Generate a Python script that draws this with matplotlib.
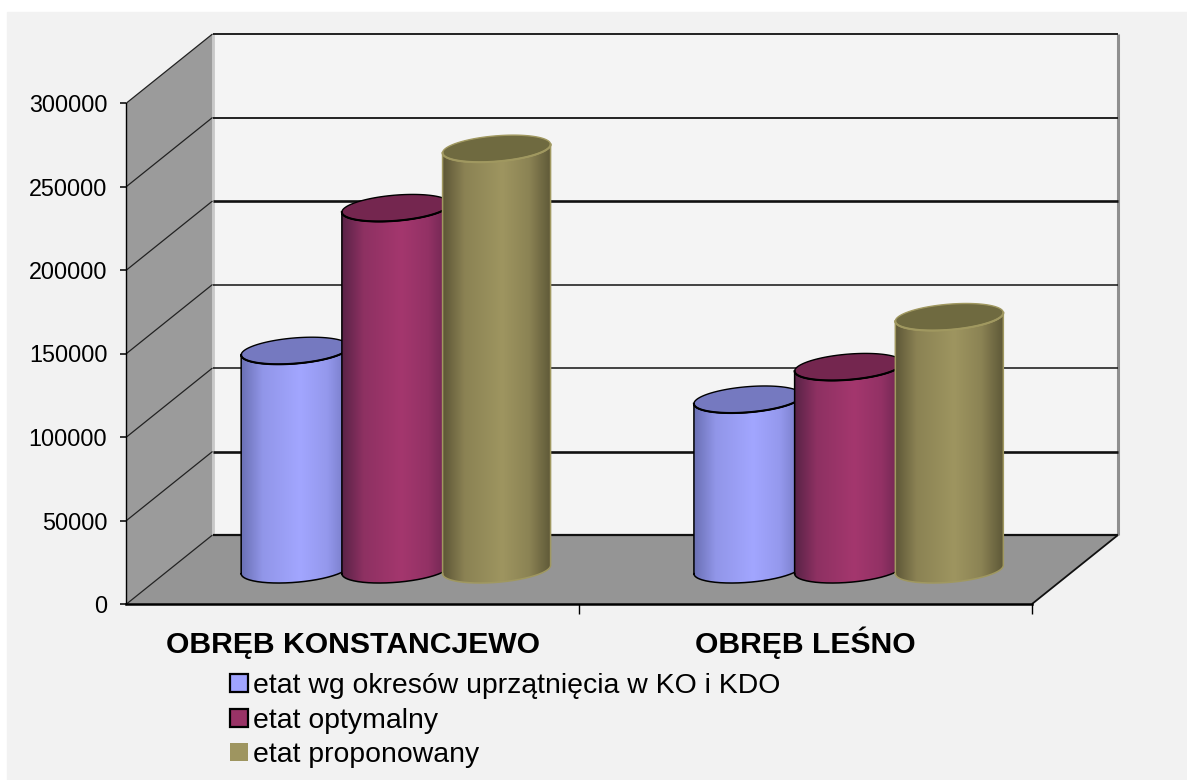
from __future__ import annotations

import matplotlib

matplotlib.use("Agg")

import matplotlib.pyplot as plt
import numpy as np
from matplotlib.colors import LinearSegmentedColormap
from matplotlib.patches import Patch, PathPatch, Polygon, Rectangle
from matplotlib.path import Path

plt.rcParams["font.family"] = ["Liberation Sans", "DejaVu Sans"]

categories = ["OBRĘB KONSTANCJEWO", "OBRĘB LEŚNO"]
series_names = [
    "etat wg okresów uprzątnięcia w KO i KDO",
    "etat optymalny",
    "etat proponowany",
]
etat_okresy = [131000, 101800]
etat_optymalny = [216500, 121300]
etat_proponowany = [252000, 151200]
y_ticks = [0, 50000, 100000, 150000, 200000, 250000, 300000]

# light/dark shades per series: left edge, highlight, right edge, top cap, outline
shades = [
    ("#6a70b4", "#a2a6ff", "#7478c2", "#7579c0", "#000000"),
    ("#5a2347", "#a4376e", "#6a2550", "#74264f", "#000000"),
    ("#5e5737", "#9e9560", "#5f5938", "#6f6a40", "#a09860"),
]
legend_colors = ["#a0a4ff", "#993366", "#9e9560"]

W, H = 1187, 780
LEFT, RIGHT, TOP, BOTTOM = 126.5, 1032.0, 103.0, 604.0
DEPTH_X, DEPTH_Y = 86.0, 69.0

fig = plt.figure(figsize=(W / 100, H / 100), dpi=100, facecolor="white")
fig.add_artist(Rectangle((7 / W, 0), 1, 1 - 12 / H, transform=fig.transFigure, color="#f2f2f2", zorder=-5))
ax = fig.add_axes([LEFT / W, 1 - BOTTOM / H, (RIGHT - LEFT) / W, (BOTTOM - TOP) / H])
ax.patch.set_alpha(0)

x_per_px = 2 / (RIGHT - LEFT)
y_per_px = 300000 / (BOTTOM - TOP)


def project(x, v, d):
    # oblique view: depth d (0 front, 1 back) shifts points up and to the right
    x = np.asarray(x, dtype=float) + np.asarray(d, dtype=float) * DEPTH_X * x_per_px
    v = np.asarray(v, dtype=float) + np.asarray(d, dtype=float) * DEPTH_Y * y_per_px
    return x, v


def quad(x0, v0, d0, x1, v1, d1, x2, v2, d2, x3, v3, d3, **kw):
    pts = [project(x0, v0, d0), project(x1, v1, d1), project(x2, v2, d2), project(x3, v3, d3)]
    ax.add_patch(Polygon(pts, closed=True, clip_on=False, **kw))


def seg(x0, v0, d0, x1, v1, d1, **kw):
    p0, p1 = project(x0, v0, d0), project(x1, v1, d1)
    ax.plot([p0[0], p1[0]], [p0[1], p1[1]], clip_on=False, solid_capstyle="butt", **kw)


# walls and floor
quad(0, 0, 1, 2, 0, 1, 2, 300000, 1, 0, 300000, 1, facecolor="#f4f4f4", edgecolor="none", zorder=0)
quad(0, 0, 0, 0, 0, 1, 0, 300000, 1, 0, 300000, 0, facecolor="#9b9b9b", edgecolor="none", zorder=0.2)
quad(0, 0, 0, 2, 0, 0, 2, 0, 1, 0, 0, 1, facecolor="#959595", edgecolor="none", zorder=0.4)

seg(0, 0, 1, 0, 300000, 1, color="#c8c8c8", lw=2.0, zorder=0.5)
seg(2, 0, 1, 2, 300000, 1, color="#8f8f8f", lw=2.2, zorder=0.5)

grid_lw = {0: 1.6, 50000: 1.9, 100000: 1.1, 150000: 1.1, 200000: 1.9, 250000: 1.3, 300000: 1.3}
for tick in y_ticks:
    seg(0, tick, 1, 2, tick, 1, color="#111111", lw=grid_lw[tick], zorder=0.6)
    seg(0, tick, 0, 0, tick, 1, color="#222222", lw=0.9, zorder=0.6)
seg(2, 0, 0, 2, 0, 1, color="#111111", lw=1.3, zorder=0.6)

# cylinders
SPACING = 100.7 * x_per_px
HALF_A = 51.3 * x_per_px
DEPTH_R = 0.196
THETA = np.arctan2(DEPTH_R * DEPTH_X * x_per_px, HALF_A)
all_values = [etat_okresy, etat_optymalny, etat_proponowany]
zo = 3

for cat_idx in range(len(categories)):
    for s_idx, values in enumerate(all_values):
        cx = cat_idx + 0.5 + (s_idx - 1) * SPACING
        val = values[cat_idx]
        left_c, mid_c, right_c, cap_c, edge_c = shades[s_idx]

        front = np.linspace(np.pi + THETA, 2 * np.pi + THETA, 80)
        round_t = np.linspace(0, 2 * np.pi, 160)

        bx, bv = project(cx + HALF_A * np.cos(front), 0, 0.5 + DEPTH_R * np.sin(front))
        tx, tv = project(cx + HALF_A * np.cos(front), val, 0.5 + DEPTH_R * np.sin(front))
        outline = np.vstack(
            [np.column_stack([bx, bv]), np.column_stack([tx[::-1], tv[::-1]]), [[bx[0], bv[0]]]]
        )

        cmap = LinearSegmentedColormap.from_list("cyl", [left_c, mid_c, right_c], N=256)
        grad = np.interp(np.linspace(0, 1, 256), [0, 0.2, 0.55, 0.8, 1], [0, 0.35, 0.5, 0.65, 1])[None, :]
        clip = PathPatch(Path(outline), transform=ax.transData, facecolor="none", edgecolor="none")
        ax.add_patch(clip)
        img = ax.imshow(
            grad,
            cmap=cmap,
            vmin=0,
            vmax=1,
            aspect="auto",
            interpolation="bilinear",
            origin="lower",
            extent=[bx.min(), bx.max(), bv.min(), tv.max()],
            zorder=zo,
        )
        img.set_clip_path(clip)

        ax.plot(outline[:, 0], outline[:, 1], color=edge_c, lw=1.1, zorder=zo + 0.1)

        ex, ev = project(cx + HALF_A * np.cos(round_t), val, 0.5 + DEPTH_R * np.sin(round_t))
        ax.add_patch(
            Polygon(np.column_stack([ex, ev]), closed=True, facecolor=cap_c, edgecolor=edge_c, lw=1.0, zorder=zo + 0.2)
        )
        ax.plot(tx, tv, color=edge_c, lw=1.5, zorder=zo + 0.3)
        zo += 1

ax.set_xlim(0, 2)
ax.set_ylim(0, 300000)

ax.spines["top"].set_visible(False)
ax.spines["right"].set_visible(False)
ax.spines["left"].set_linewidth(1.0)
ax.spines["bottom"].set_linewidth(1.8)

ax.set_yticks(y_ticks)
ax.set_yticklabels([str(t) for t in y_ticks])
ax.tick_params(axis="y", length=4.3, width=1.1, pad=9.5, labelsize=16.8)
ax.set_xticks([1, 2])
ax.set_xticklabels(["", ""])
ax.tick_params(axis="x", which="major", length=7.2, width=1.0)
ax.set_xticks([0.5, 1.5], labels=categories, minor=True)
ax.tick_params(axis="x", which="minor", length=0, pad=35, labelsize=21.7)
for label in ax.get_xticklabels(minor=True):
    label.set_fontweight("bold")
    label.set_verticalalignment("baseline")

handles = [
    Patch(facecolor=legend_colors[0], edgecolor="black", lw=1.6),
    Patch(facecolor=legend_colors[1], edgecolor="black", lw=1.6),
    Patch(facecolor=legend_colors[2], edgecolor="none"),
]
fig.legend(
    handles,
    series_names,
    loc="upper left",
    bbox_to_anchor=(226 / W, 1 - 669 / H),
    frameon=False,
    fontsize=20.4,
    handlelength=0.62,
    handleheight=0.62,
    handletextpad=0.2,
    labelspacing=0.3,
    borderpad=0.15,
    borderaxespad=0,
)

fig.savefig("out.png", dpi=100)
plt.close(fig)
